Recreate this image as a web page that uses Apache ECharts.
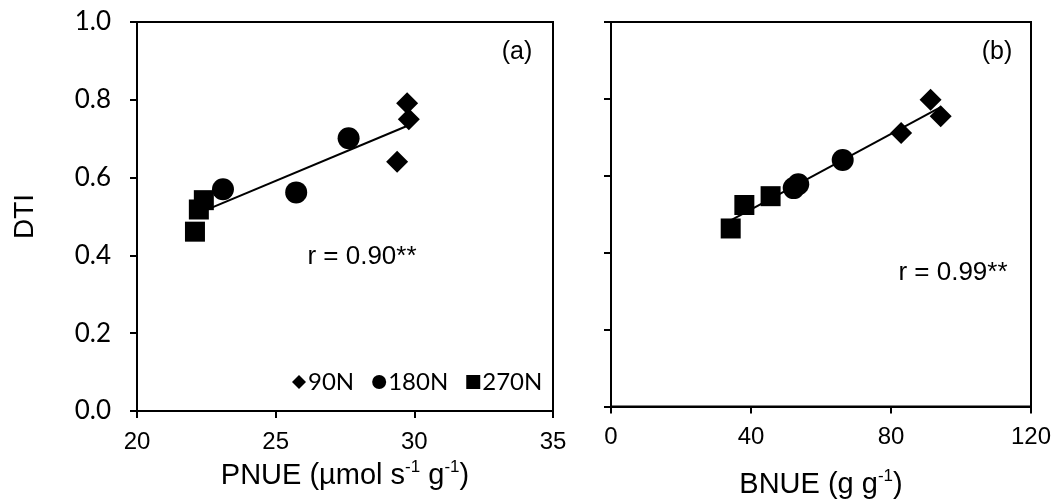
<!DOCTYPE html>
<html>
<head>
<meta charset="utf-8">
<title>DTI vs nitrogen use efficiency</title>
<script src="https://cdn.jsdelivr.net/npm/echarts@6/dist/echarts.min.js"></script>
<style>
  html, body { margin: 0; padding: 0; background: #fff; }
  #chart { width: 1056px; height: 504px; }
</style>
</head>
<body>
<div id="chart"></div>
<script>
// Nitrogen treatments
const nLevels = ['90N', '180N', '270N'];
const markers = ['diamond', 'circle', 'rect'];
const markerSizes = [22, 22, 20];

// Panel (a): PNUE (µmol s-1 g-1) against DTI
const pnue90 = [29.74, 29.80, 29.38];
const dtiA90 = [0.791, 0.750, 0.641];
const pnue180 = [27.63, 25.74, 23.10];
const dtiA180 = [0.701, 0.562, 0.570];
const pnue270 = [22.09, 22.23, 22.41];
const dtiA270 = [0.461, 0.518, 0.542];

// Panel (b): BNUE (g g-1) against DTI
const bnue90 = [91.3, 94.2, 82.9];
const dtiB90 = [0.798, 0.755, 0.711];
const bnue180 = [66.2, 52.2, 53.5];
const dtiB180 = [0.641, 0.568, 0.578];
const bnue270 = [34.2, 38.1, 45.6];
const dtiB270 = [0.463, 0.524, 0.547];

// Axis tick values
const pnueTicks = [20, 25, 30, 35];
const bnueTicks = [0, 40, 80, 120];
const dtiTicks = [0.0, 0.2, 0.4, 0.6, 0.8, 1.0];

const panelA = { xs: [pnue90, pnue180, pnue270], ys: [dtiA90, dtiA180, dtiA270], r: 'r = 0.90**', tag: '(a)' };
const panelB = { xs: [bnue90, bnue180, bnue270], ys: [dtiB90, dtiB180, dtiB270], r: 'r = 0.99**', tag: '(b)' };

const ARIAL = '"Liberation Sans", Arial, sans-serif';
const CAL = 'Lato, "Open Sans", sans-serif';

// Least-squares trendline spanning the observed x range
function trend(xsList, ysList) {
  const xs = [].concat(...xsList), ys = [].concat(...ysList);
  const n = xs.length;
  const mx = xs.reduce((a, b) => a + b, 0) / n;
  const my = ys.reduce((a, b) => a + b, 0) / n;
  let sxy = 0, sxx = 0;
  for (let i = 0; i < n; i++) { sxy += (xs[i] - mx) * (ys[i] - my); sxx += (xs[i] - mx) ** 2; }
  const k = sxy / sxx, b = my - k * mx;
  const x0 = Math.min(...xs), x1 = Math.max(...xs);
  return [[x0, k * x0 + b], [x1, k * x1 + b]];
}

const supRich = {
  sup: { fontSize: 17, fontFamily: ARIAL, color: '#000', verticalAlign: 'top', lineHeight: 20 },
  base: { fontSize: 29, fontFamily: ARIAL, color: '#000', lineHeight: 34 }
};

function xAxisFor(gridIndex, ticks, name, gap) {
  return {
    type: 'value', gridIndex,
    min: ticks[0], max: ticks[ticks.length - 1], interval: ticks[1] - ticks[0],
    name, nameLocation: 'middle', nameGap: gap,
    nameTextStyle: { fontSize: 29, fontFamily: ARIAL, color: '#000', rich: supRich },
    axisLine: { show: true, onZero: false, lineStyle: { color: '#000', width: 2 } },
    axisTick: { show: true, inside: false, length: 7, lineStyle: { color: '#000', width: 2 } },
    axisLabel: { margin: 19, fontSize: 24, fontFamily: ARIAL, color: '#000' },
    splitLine: { show: false }
  };
}

function yAxisFor(gridIndex, showLabels) {
  return {
    type: 'value', gridIndex,
    min: dtiTicks[0], max: dtiTicks[dtiTicks.length - 1], interval: 0.2,
    name: showLabels ? 'DTI' : '', nameLocation: 'middle', nameGap: 98,
    nameTextStyle: { fontSize: 28, fontFamily: ARIAL, color: '#000' },
    axisLine: { show: true, onZero: false, lineStyle: { color: '#000', width: 2 } },
    axisTick: { show: true, inside: false, length: 7, lineStyle: { color: '#000', width: 2 } },
    axisLabel: { show: showLabels, margin: 26, fontSize: 26, fontFamily: CAL, color: '#000',
                 formatter: v => v.toFixed(1) },
    splitLine: { show: false }
  };
}

const series = [];
[panelA, panelB].forEach((p, gi) => {
  nLevels.forEach((lvl, i) => {
    series.push({
      type: 'scatter', name: lvl, xAxisIndex: gi, yAxisIndex: gi,
      symbol: markers[i], symbolSize: markerSizes[i],
      itemStyle: { color: '#000', opacity: 1 },
      data: p.xs[i].map((x, j) => [x, p.ys[i][j]]),
      z: 3
    });
  });
  series.push({
    type: 'line', name: 'trend' + gi, xAxisIndex: gi, yAxisIndex: gi,
    data: trend(p.xs, p.ys), showSymbol: false, symbol: 'none',
    lineStyle: { color: '#000', width: 2 }, z: 4, silent: true
  });
});

const textEl = (txt, x, y, size) => ({
  type: 'text', x, y,
  style: { text: txt, fontSize: size, fontFamily: ARIAL, fill: '#000', align: 'center', verticalAlign: 'middle' }
});

const chart = echarts.init(document.getElementById('chart'), null, { renderer: 'canvas' });
chart.setOption({
  backgroundColor: '#fff',
  animation: false,
  grid: [
    { left: 137, right: 503, top: 22, bottom: 93, show: true, borderColor: '#000', borderWidth: 2, backgroundColor: 'transparent' },
    { left: 611, right: 25, top: 22, bottom: 93, show: true, borderColor: '#000', borderWidth: 2, backgroundColor: 'transparent' }
  ],
  xAxis: [
    xAxisFor(0, pnueTicks, '{base|PNUE (µmol s}{sup|-1}{base| g}{sup|-1}{base|)}', 43),
    xAxisFor(1, bnueTicks, '{base|BNUE (g g}{sup|-1}{base|)}', 61)
  ],
  yAxis: [yAxisFor(0, true), yAxisFor(1, false)],
  legend: {
    left: 292, top: 370, padding: 0, orient: 'horizontal',
    itemWidth: 14, itemHeight: 14, itemGap: 18,
    data: nLevels.map((n, i) => ({ name: n, icon: markers[i] })),
    itemStyle: { color: '#000', opacity: 1 },
    textStyle: { fontSize: 24, fontFamily: CAL, color: '#000', padding: [0, 0, 0, -3] }
  },
  graphic: [
    textEl(panelA.tag, 517, 52, 25),
    textEl(panelB.tag, 997, 52, 25),
    textEl(panelA.r, 362, 257, 26),
    textEl(panelB.r, 953, 273, 26)
  ],
  series
});
</script>
</body>
</html>
